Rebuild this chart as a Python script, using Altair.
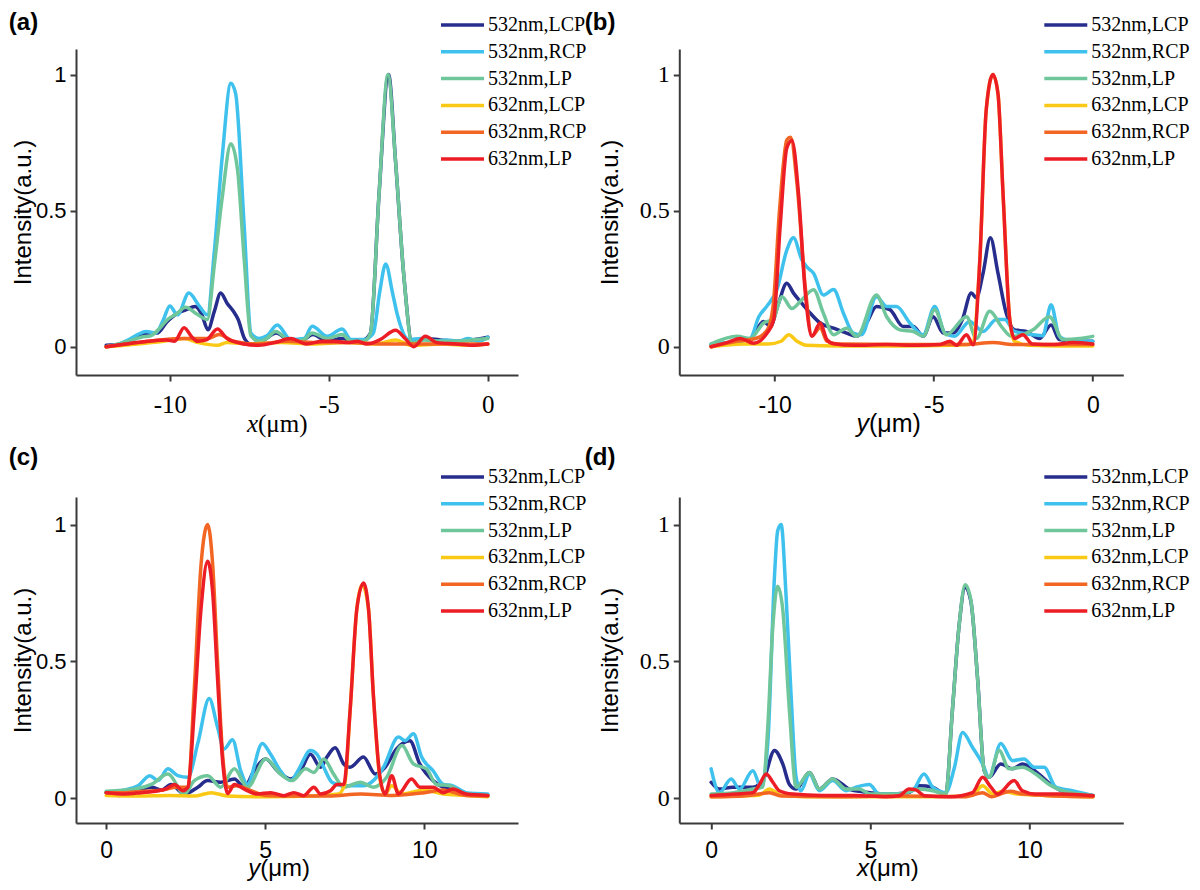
import altair as alt
import pandas as pd

SERIES = ["532nm,LCP", "532nm,RCP", "532nm,LP", "632nm,LCP", "632nm,RCP", "632nm,LP"]
COLORS = ["#262d8c", "#3ec1ec", "#6fc69b", "#fac916", "#f26522", "#ec1d25"]

X_TICKS_NEG = [-10, -5, 0]
X_TICKS_POS = [0, 5, 10]
Y_TICKS = [0, 0.5, 1]

# ---------------- panel (a): x profile, 532 nm peaks ----------------
A_532_LCP = [(-12, 0.005), (-11.5, 0.01), (-11.0, 0.04), (-10.7, 0.05), (-10.4, 0.05), (-10.1, 0.09),
             (-9.8, 0.12), (-9.5, 0.135), (-9.2, 0.148), (-9.0, 0.12), (-8.8, 0.062), (-8.6, 0.13),
             (-8.4, 0.197), (-8.2, 0.16), (-8.0, 0.13), (-7.85, 0.10), (-7.65, 0.03), (-7.45, 0.01),
             (-7.1, 0.02), (-6.65, 0.05), (-6.2, 0.02), (-5.8, 0.025), (-5.5, 0.045), (-5.05, 0.02),
             (-4.6, 0.03), (-4.2, 0.02), (-3.9, 0.025), (-3.69, 0.05), (-3.42, 0.56), (-3.12, 1.0),
             (-2.9, 0.68), (-2.64, 0.26), (-2.38, 0.02), (-2.0, 0.03), (-1.5, 0.025), (-1.0, 0.02),
             (-0.5, 0.025), (0, 0.035)]
A_532_RCP = [(-12, 0.0), (-11.6, 0.01), (-11.3, 0.025), (-11.0, 0.045), (-10.75, 0.056), (-10.45, 0.05),
             (-10.2, 0.1), (-10.0, 0.15), (-9.76, 0.117), (-9.4, 0.197), (-9.1, 0.154), (-8.82, 0.117),
             (-8.6, 0.35), (-8.35, 0.7), (-8.08, 0.968), (-7.93, 0.93), (-7.66, 0.44), (-7.45, 0.05),
             (-7.2, 0.03), (-6.95, 0.04), (-6.62, 0.08), (-6.2, 0.026), (-5.78, 0.03), (-5.52, 0.075),
             (-5.05, 0.038), (-4.58, 0.065), (-4.3, 0.026), (-3.9, 0.026), (-3.6, 0.05), (-3.4, 0.2),
             (-3.21, 0.304), (-3.0, 0.2), (-2.85, 0.12), (-2.48, 0.026), (-2.1, 0.03), (-1.6, 0.02),
             (-1.3, 0.025), (-0.95, 0.02), (-0.6, 0.03), (-0.3, 0.02), (0, 0.035)]
A_532_LP = [(-12, 0.0), (-11.6, 0.01), (-11.3, 0.02), (-10.9, 0.035), (-10.6, 0.04), (-10.3, 0.07),
            (-10.07, 0.1), (-9.8, 0.12), (-9.5, 0.145), (-9.15, 0.12), (-8.82, 0.10), (-8.6, 0.3),
            (-8.35, 0.55), (-8.08, 0.746), (-7.87, 0.65), (-7.66, 0.32), (-7.45, 0.04), (-7.2, 0.02),
            (-6.95, 0.03), (-6.67, 0.056), (-6.2, 0.02), (-5.8, 0.025), (-5.52, 0.05), (-5.05, 0.03),
            (-4.58, 0.045), (-4.3, 0.02), (-3.9, 0.02), (-3.69, 0.05), (-3.42, 0.56), (-3.14, 1.0),
            (-2.9, 0.68), (-2.64, 0.26), (-2.38, 0.014), (-2.0, 0.025), (-1.5, 0.02), (-1.0, 0.02),
            (-0.5, 0.025), (0, 0.03)]
A_632_LCP = [(-12, 0.0), (-11.0, 0.01), (-10.2, 0.02), (-9.55, 0.03), (-9.1, 0.015), (-8.5, 0.005),
             (-8.2, 0.015), (-7.5, 0.01), (-6.5, 0.015), (-5.5, 0.01), (-4.5, 0.015), (-3.5, 0.01),
             (-2.9, 0.025), (-2.4, 0.005), (-1.5, 0.01), (-0.5, 0.005), (0, 0.01)]
A_632_RCP = [(-12, 0.0), (-11.0, 0.015), (-10.3, 0.025), (-9.5, 0.03), (-8.8, 0.03), (-8.45, 0.045),
             (-8.0, 0.02), (-7.3, 0.01), (-6.3, 0.02), (-5.3, 0.015), (-4.3, 0.015), (-3.3, 0.01),
             (-2.5, 0.01), (-1.5, 0.01), (-0.5, 0.01), (0, 0.01)]
A_632_LP = [(-12, 0.0), (-11.4, 0.01), (-10.7, 0.02), (-10.1, 0.025), (-9.85, 0.02), (-9.55, 0.07),
            (-9.3, 0.035), (-9.13, 0.02), (-8.85, 0.025), (-8.5, 0.065), (-8.2, 0.03), (-7.66, 0.01),
            (-7.2, 0.005), (-6.7, 0.015), (-6.2, 0.03), (-5.7, 0.01), (-5.2, 0.02), (-4.8, 0.02),
            (-4.4, 0.015), (-4.1, 0.02), (-3.8, 0.01), (-3.4, 0.025), (-2.9, 0.06), (-2.6, 0.03),
            (-2.33, 0.0), (-1.96, 0.038), (-1.6, 0.015), (-1.0, 0.01), (-0.5, 0.005), (0, 0.01)]

# ---------------- panel (b): y profile, 632 nm peaks ----------------
B_532_LCP = [(-12, 0.005), (-11.4, 0.015), (-10.77, 0.03), (-10.35, 0.093), (-10.14, 0.074), (-9.88, 0.16),
             (-9.62, 0.233), (-9.41, 0.197), (-9.15, 0.16), (-8.88, 0.123), (-8.57, 0.087), (-8.15, 0.068),
             (-7.74, 0.05), (-7.42, 0.038), (-7.1, 0.09), (-6.8, 0.148), (-6.38, 0.136), (-5.96, 0.074),
             (-5.64, 0.074), (-5.33, 0.038), (-5.02, 0.11), (-4.7, 0.05), (-4.4, 0.05), (-4.1, 0.1),
             (-3.82, 0.197), (-3.66, 0.18), (-3.45, 0.27), (-3.22, 0.40), (-2.98, 0.27), (-2.72, 0.123),
             (-2.46, 0.062), (-2.09, 0.056), (-1.67, 0.03), (-1.31, 0.08), (-1.05, 0.026), (-0.5, 0.02),
             (0, 0.02)]
B_532_RCP = [(-12, 0.01), (-11.2, 0.02), (-10.77, 0.03), (-10.5, 0.11), (-10.24, 0.15), (-9.93, 0.21),
             (-9.62, 0.355), (-9.41, 0.40), (-9.15, 0.32), (-9.0, 0.294), (-8.78, 0.27), (-8.47, 0.19),
             (-8.15, 0.21), (-7.84, 0.123), (-7.53, 0.05), (-7.27, 0.044), (-6.8, 0.184), (-6.48, 0.148),
             (-6.17, 0.148), (-5.75, 0.087), (-5.33, 0.044), (-4.97, 0.148), (-4.65, 0.05), (-4.35, 0.038),
             (-3.87, 0.093), (-3.45, 0.056), (-3.03, 0.1), (-2.77, 0.1), (-2.46, 0.056), (-1.88, 0.044),
             (-1.57, 0.04), (-1.31, 0.154), (-1.05, 0.038), (-0.63, 0.02), (0, 0.02)]
B_532_LP = [(-12, 0.01), (-11.18, 0.038), (-10.77, 0.03), (-10.35, 0.087), (-10.05, 0.1), (-9.77, 0.184),
            (-9.46, 0.14), (-9.15, 0.172), (-8.78, 0.209), (-8.47, 0.123), (-8.15, 0.044), (-7.74, 0.068),
            (-7.42, 0.038), (-6.8, 0.19), (-6.48, 0.11), (-6.06, 0.062), (-5.64, 0.056), (-5.33, 0.038),
            (-4.97, 0.136), (-4.6, 0.044), (-3.97, 0.11), (-3.66, 0.03), (-3.24, 0.13), (-2.87, 0.074),
            (-2.56, 0.038), (-1.88, 0.062), (-1.36, 0.11), (-0.94, 0.026), (-0.4, 0.03), (0, 0.038)]
B_632_LCP = [(-12, 0.0), (-11.0, 0.01), (-10.2, 0.01), (-9.8, 0.02), (-9.56, 0.044), (-9.3, 0.02),
             (-9.0, 0.005), (-8.0, 0.003), (-6.0, 0.003), (-4.5, 0.005), (-3.8, 0.01), (-3.55, 0.32),
             (-3.35, 0.87), (-3.14, 1.0), (-2.98, 0.93), (-2.82, 0.56), (-2.61, 0.1), (-2.46, 0.02),
             (-2.0, 0.005), (-1.0, 0.003), (0, 0.003)]
B_632_RCP = [(-12, 0.0), (-11.2, 0.02), (-10.6, 0.03), (-10.24, 0.06), (-10.05, 0.15), (-9.85, 0.5),
             (-9.62, 0.76), (-9.5, 0.77), (-9.3, 0.6), (-9.04, 0.22), (-8.83, 0.04), (-8.57, 0.07),
             (-8.36, 0.02), (-8.0, 0.01), (-6.0, 0.008), (-4.0, 0.008), (-3.14, 0.015), (-2.5, 0.008),
             (-1.0, 0.008), (0, 0.008)]
B_632_LP = [(-12, 0.0), (-11.5, 0.015), (-11.08, 0.03), (-10.66, 0.013), (-10.24, 0.05), (-10.03, 0.1),
            (-9.83, 0.44), (-9.62, 0.73), (-9.46, 0.758), (-9.25, 0.56), (-9.04, 0.2), (-8.83, 0.038),
            (-8.57, 0.087), (-8.36, 0.026), (-8.15, 0.011), (-7.5, 0.005), (-6.5, 0.008), (-5.5, 0.005),
            (-4.8, 0.008), (-4.49, 0.02), (-4.28, 0.005), (-3.97, 0.044), (-3.76, 0.007), (-3.55, 0.32),
            (-3.35, 0.87), (-3.14, 1.0), (-2.98, 0.93), (-2.82, 0.56), (-2.61, 0.1), (-2.46, 0.03),
            (-2.2, 0.044), (-1.9, 0.01), (-1.2, 0.008), (-0.63, 0.015), (0, 0.01)]

# ---------------- panel (c): y profile, 632 nm peaks ----------------
C_532_LCP = [(0, 0.02), (0.4, 0.01), (1.0, 0.03), (1.42, 0.04), (1.75, 0.03), (2.04, 0.05), (2.46, 0.015),
             (2.88, 0.04), (3.19, 0.064), (3.6, 0.058), (4.03, 0.07), (4.34, 0.04), (4.65, 0.1),
             (5.02, 0.143), (5.38, 0.1), (5.8, 0.07), (6.11, 0.1), (6.42, 0.16), (6.74, 0.113),
             (6.94, 0.15), (7.2, 0.184), (7.47, 0.125), (7.67, 0.113), (8.09, 0.15), (8.46, 0.088),
             (8.77, 0.113), (9.13, 0.18), (9.55, 0.21), (9.86, 0.125), (10.28, 0.064), (10.59, 0.04),
             (11.0, 0.03), (11.32, 0.015), (12, 0.01)]
C_532_RCP = [(0, 0.02), (0.58, 0.03), (1.0, 0.045), (1.37, 0.082), (1.63, 0.064), (1.94, 0.107),
             (2.25, 0.082), (2.57, 0.076), (2.88, 0.2), (3.24, 0.364), (3.5, 0.26), (3.71, 0.18),
             (3.97, 0.213), (4.23, 0.1), (4.44, 0.051), (4.91, 0.2), (5.17, 0.16), (5.48, 0.1),
             (5.8, 0.064), (6.06, 0.107), (6.42, 0.174), (6.63, 0.16), (6.84, 0.113), (7.1, 0.058),
             (7.47, 0.045), (7.78, 0.045), (8.09, 0.045), (8.4, 0.064), (8.72, 0.113), (9.19, 0.223),
             (9.4, 0.21), (9.66, 0.235), (9.92, 0.15), (10.28, 0.1), (10.59, 0.051), (10.9, 0.045),
             (11.32, 0.02), (12, 0.015)]
C_532_LP = [(0, 0.025), (0.9, 0.033), (1.42, 0.05), (1.94, 0.088), (2.46, 0.015), (2.77, 0.064),
            (3.19, 0.082), (3.6, 0.04), (4.03, 0.107), (4.44, 0.04), (5.02, 0.143), (5.48, 0.088),
            (5.85, 0.064), (6.27, 0.107), (6.53, 0.094), (6.84, 0.143), (7.15, 0.088), (7.47, 0.04),
            (7.99, 0.058), (8.4, 0.04), (8.82, 0.076), (9.3, 0.192), (9.66, 0.125), (10.07, 0.107),
            (10.39, 0.05), (10.8, 0.045), (11.32, 0.015), (12, 0.01)]
C_632_LCP = [(0, 0.01), (1.0, 0.008), (2.0, 0.01), (2.8, 0.008), (3.3, 0.02), (3.8, 0.008), (5.0, 0.005),
             (6.5, 0.008), (7.3, 0.015), (7.5, 0.05), (7.67, 0.32), (7.88, 0.69), (8.05, 0.78),
             (8.25, 0.69), (8.4, 0.38), (8.61, 0.07), (8.77, 0.015), (8.98, 0.045), (9.3, 0.015),
             (10.0, 0.03), (10.6, 0.015), (11.3, 0.01), (12, 0.005)]
C_632_RCP = [(0, 0.02), (0.6, 0.02), (1.2, 0.025), (1.8, 0.03), (2.2, 0.04), (2.57, 0.04), (2.77, 0.4),
             (2.98, 0.85), (3.19, 1.0), (3.35, 0.85), (3.5, 0.5), (3.66, 0.16), (3.82, 0.04),
             (4.1, 0.045), (4.5, 0.03), (5.0, 0.01), (6.0, 0.008), (7.0, 0.008), (8.0, 0.015),
             (9.0, 0.01), (10.0, 0.02), (10.6, 0.03), (11.3, 0.01), (12, 0.008)]
C_632_LP = [(0, 0.02), (0.58, 0.015), (1.1, 0.02), (1.63, 0.027), (1.9, 0.035), (2.15, 0.05), (2.41, 0.027),
            (2.57, 0.04), (2.77, 0.32), (2.98, 0.69), (3.19, 0.866), (3.35, 0.75), (3.5, 0.44),
            (3.66, 0.137), (3.82, 0.017), (4.03, 0.05), (4.34, 0.033), (4.75, 0.015), (5.17, 0.02),
            (5.59, 0.009), (5.9, 0.02), (6.21, 0.009), (6.53, 0.04), (6.74, 0.015), (7.05, 0.027),
            (7.26, 0.05), (7.47, 0.05), (7.67, 0.32), (7.88, 0.69), (8.09, 0.787), (8.25, 0.69),
            (8.4, 0.38), (8.61, 0.076), (8.77, 0.015), (8.98, 0.082), (9.19, 0.015), (9.6, 0.07),
            (9.86, 0.04), (10.28, 0.04), (10.59, 0.02), (10.9, 0.033), (11.32, 0.015), (12, 0.01)]

# ---------------- panel (d): x profile, 532 nm peaks ----------------
D_532_LCP = [(0, 0.058), (0.26, 0.033), (0.68, 0.04), (1.31, 0.04), (1.67, 0.076), (1.99, 0.174),
             (2.25, 0.125), (2.46, 0.05), (2.67, 0.033), (3.09, 0.094), (3.4, 0.033), (3.82, 0.07),
             (4.4, 0.03), (5.0, 0.02), (5.5, 0.015), (6.2, 0.02), (6.54, 0.045), (6.96, 0.04),
             (7.37, 0.015), (7.58, 0.32), (7.79, 0.63), (7.98, 0.77), (8.16, 0.72), (8.37, 0.44),
             (8.58, 0.1), (8.73, 0.076), (9.1, 0.125), (9.47, 0.107), (9.78, 0.125), (10.3, 0.088),
             (10.72, 0.045), (11.2, 0.02), (12, 0.01)]
D_532_RCP = [(0, 0.107), (0.26, 0.02), (0.63, 0.07), (0.89, 0.033), (1.31, 0.1), (1.57, 0.04), (1.78, 0.2),
             (1.99, 0.81), (2.09, 0.977), (2.2, 1.0), (2.35, 0.75), (2.51, 0.38), (2.67, 0.076),
             (2.82, 0.027), (3.09, 0.088), (3.4, 0.027), (3.82, 0.064), (4.24, 0.027), (4.55, 0.04),
             (4.97, 0.05), (5.28, 0.015), (5.91, 0.015), (6.33, 0.027), (6.69, 0.088), (6.96, 0.04),
             (7.37, 0.02), (7.64, 0.11), (7.9, 0.24), (8.21, 0.186), (8.53, 0.125), (8.73, 0.076),
             (9.1, 0.2), (9.47, 0.137), (9.83, 0.143), (10.15, 0.113), (10.46, 0.113), (10.83, 0.04),
             (11.35, 0.027), (12, 0.009)]
D_532_LP = [(0, 0.015), (0.7, 0.02), (1.31, 0.033), (1.62, 0.04), (1.78, 0.26), (1.94, 0.63), (2.09, 0.775),
            (2.25, 0.69), (2.46, 0.32), (2.67, 0.04), (3.09, 0.094), (3.4, 0.033), (3.82, 0.07),
            (4.24, 0.033), (4.65, 0.033), (5.0, 0.015), (5.9, 0.015), (6.54, 0.033), (6.96, 0.027),
            (7.37, 0.015), (7.58, 0.32), (7.79, 0.63), (7.98, 0.78), (8.16, 0.725), (8.37, 0.44),
            (8.58, 0.1), (8.73, 0.076), (9.05, 0.174), (9.36, 0.107), (9.78, 0.113), (10.2, 0.088),
            (10.62, 0.05), (11.04, 0.027), (12, 0.01)]
D_632_LCP = [(0, 0.005), (1.0, 0.008), (1.5, 0.01), (1.83, 0.033), (2.2, 0.01), (3.0, 0.005), (5.0, 0.005),
             (7.0, 0.005), (8.2, 0.01), (8.53, 0.045), (8.85, 0.015), (9.15, 0.025), (9.6, 0.015),
             (10.5, 0.01), (12, 0.005)]
D_632_RCP = [(0, 0.005), (1.0, 0.008), (1.5, 0.015), (1.83, 0.02), (2.2, 0.008), (4.0, 0.005), (6.0, 0.008),
             (8.0, 0.005), (8.53, 0.02), (8.8, 0.005), (9.4, 0.025), (9.8, 0.015), (10.5, 0.01),
             (12, 0.005)]
D_632_LP = [(0, 0.01), (0.78, 0.015), (1.31, 0.02), (1.52, 0.05), (1.73, 0.088), (1.94, 0.058),
            (2.14, 0.027), (2.56, 0.015), (3.5, 0.01), (4.5, 0.01), (5.5, 0.005), (5.91, 0.009),
            (6.22, 0.033), (6.43, 0.03), (6.7, 0.009), (7.5, 0.005), (8.21, 0.02), (8.53, 0.076),
            (8.79, 0.04), (9.0, 0.015), (9.52, 0.064), (9.78, 0.027), (10.2, 0.015), (11.0, 0.015),
            (12, 0.009)]

SANS = "Liberation Sans"
SERIF = "Liberation Serif"
AXIS_COLOR = "#3a3a3a"


def text_layer(txt, x, y, font, size, weight="normal", style="normal", align="left", baseline="alphabetic"):
    return alt.Chart(pd.DataFrame({"t": [txt]})).mark_text(
        font=font, fontSize=size, fontWeight=weight, fontStyle=style,
        align=align, baseline=baseline, color="black"
    ).encode(x=alt.value(x), y=alt.value(y), text="t:N")


def panel(series, label, label_x, label_y, var, xdom, xticks, ydom, xlab_font, ylab_font,
          width, height, legend_y, split, title_dy, title_pad, xlab_pad, title_size):
    xaxis = alt.Axis(values=xticks, labelExpr="datum.value + ''", title=None, grid=False,
                     labelFont=xlab_font, labelFontSize=25 if xlab_font == SERIF else 23,
                     labelColor="black", labelPadding=xlab_pad,
                     tickSize=6, tickWidth=2,
                     tickColor=AXIS_COLOR, domainColor=AXIS_COLOR, domainWidth=2)
    yaxis = alt.Axis(values=Y_TICKS, labelExpr="datum.value + ''", title="Intensity(a.u.)", grid=False,
                     labelFont=ylab_font, labelFontSize=24 if ylab_font == SERIF else 22,
                     labelColor="black", labelPadding=4, tickSize=6, tickWidth=2,
                     tickColor=AXIS_COLOR, domainColor=AXIS_COLOR, domainWidth=2,
                     titleFont=SANS, titleFontSize=24, titleFontWeight="normal", titleColor="black",
                     titlePadding=title_pad)
    legend = alt.Legend(orient="none", legendX=374, legendY=legend_y, title=None,
                        symbolType="M-2,0L2,0", symbolSize=462, symbolStrokeWidth=3.5,
                        labelFont=SERIF, labelFontSize=20, labelColor="black", rowPadding=3.8,
                        fillColor="white", padding=0, labelOffset=13, labelLimit=0)
    layers = []
    for name, pts in zip(SERIES, series):
        df = pd.DataFrame(pts, columns=["pos", "val"])
        df["series"] = name
        layers.append(
            alt.Chart(df).mark_line(strokeWidth=3.5, interpolate="monotone",
                                    strokeJoin="round", strokeCap="round").encode(
                x=alt.X("pos:Q", scale=alt.Scale(domain=xdom, nice=False, zero=False), axis=xaxis),
                y=alt.Y("val:Q", scale=alt.Scale(domain=ydom, nice=False, zero=False), axis=yaxis),
                color=alt.Color("series:N", scale=alt.Scale(domain=SERIES, range=COLORS),
                                legend=legend),
            )
        )
    tfont = SERIF if xlab_font == SERIF else SANS
    ty = height + title_dy
    layers.append(text_layer(var, split, ty, tfont, title_size, style="italic", align="right"))
    layers.append(text_layer("(\u03bcm)", split, ty, tfont, title_size, align="left"))
    layers.append(text_layer(label, label_x, label_y, SANS, 24, weight="bold", baseline="top"))
    return alt.layer(*layers).properties(width=width, height=height)


H = 326
ROW1_Y = [-0.104, 1.094]
ROW2_Y = [-0.091, 1.101]

pa = panel([A_532_LCP, A_532_RCP, A_532_LP, A_632_LCP, A_632_RCP, A_632_LP], "(a)", -67.2, -38, "x",
           [-12.95, 0.95], X_TICKS_NEG, ROW1_Y, SERIF, SANS, 442, H, -36.5, 182, 57, 0, 11.5, 25)
pb = panel([B_532_LCP, B_532_RCP, B_532_LP, B_632_LCP, B_632_RCP, B_632_LP], "(b)", -94.5, -38, "y",
           [-13.0, 0.96], X_TICKS_NEG, ROW1_Y, SANS, SERIF, 444, H, -36.5, 189.6, 57, 17, 13, 25)
pc = panel([C_532_LCP, C_532_RCP, C_532_LP, C_632_LCP, C_632_RCP, C_632_LP], "(c)", -67.2, -51, "y",
           [-0.95, 12.95], X_TICKS_POS, ROW2_Y, SANS, SANS, 442, H, -32.5, 184.2, 53, 0, 10.5, 24)
pd_ = panel([D_532_LCP, D_532_RCP, D_532_LP, D_632_LCP, D_632_RCP, D_632_LP], "(d)", -94.5, -51, "x",
            [-1.0, 12.95], X_TICKS_POS, ROW2_Y, SANS, SERIF, 444, H, -32.5, 189.6, 53, 17, 10.5, 24)

chart = alt.concat(pa, pb, pc, pd_, columns=2, spacing={"row": 122, "column": 161.3}).properties(
    bounds="flush", padding={"top": 3, "left": 0, "right": 0, "bottom": 0}, background="white"
).resolve_scale(color="independent").configure_view(stroke=None)

chart.save("out.html", embed_options={"renderer": "svg", "actions": False})
